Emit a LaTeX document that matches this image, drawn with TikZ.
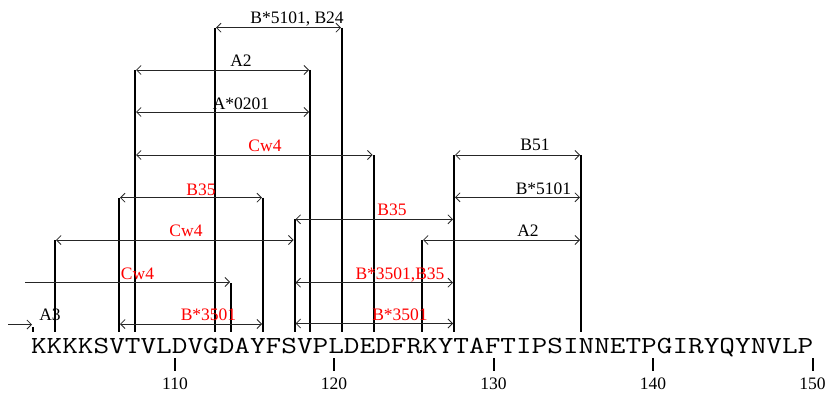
\documentclass[tikz,border=0pt]{standalone}
\usepackage{fontspec}
\setmainfont{Liberation Serif}
\usepackage{graphicx}
\usetikzlibrary{arrows.meta}
\tikzset{
  vline/.style={line width=2pt},
  barb/.tip={Straight Barb[length=4.5pt,width=9pt]},
  epi/.style={line width=0.8pt, black!85, barb-barb, shorten <=1pt, shorten >=1pt},
  epiR/.style={line width=0.8pt, black!85, -barb, shorten >=1pt},
  lab/.style={font=\fontsize{17.5}{17.5}\selectfont, inner sep=0pt, anchor=base},
  redlab/.style={lab, text=red},
  tickln/.style={line width=2pt},
}
\begin{document}
\begin{tikzpicture}[x=1pt,y=-1pt]
\useasboundingbox (0,0) rectangle (827,393);
% vertical lines
\foreach \n/\x/\t in {a/55/240, b/119/197.7, c/135/70, d/215/27.7, e/231/283, f/263/197.7,
  g/294.5/219.3, h/310/70, i/342/27.7, j/373.5/155, k/422/240, l/454/155, m/581/155}{
  \coordinate (v\n t) at (\x,\t);
  \coordinate (v\n b) at (\x,332);
  \draw[vline] (v\n t) -- (v\n b);
}
\coordinate (a3tt) at (33,327);
\coordinate (a3tb) at (33,332);
\draw[vline] (a3tt) -- (a3tb);
% epitope arrows
\coordinate (e1l) at (215,27.7);   \coordinate (e1r) at (342,27.7);
\coordinate (e2l) at (135,70);     \coordinate (e2r) at (310,70);
\coordinate (e3l) at (135,112);    \coordinate (e3r) at (310,112);
\coordinate (e4l) at (135,155);    \coordinate (e4r) at (373.5,155);
\coordinate (e5l) at (119,197.7);  \coordinate (e5r) at (263,197.7);
\coordinate (e6l) at (55,240);     \coordinate (e6r) at (294.5,240);
\coordinate (e7l) at (25,282);     \coordinate (e7r) at (231,282);
\coordinate (e8l) at (454,155);    \coordinate (e8r) at (581,155);
\coordinate (e9l) at (454,197.3);  \coordinate (e9r) at (581,197.3);
\coordinate (e10l) at (294.5,219.3); \coordinate (e10r) at (454,219.3);
\coordinate (e11l) at (422,240);   \coordinate (e11r) at (581,240);
\coordinate (e12l) at (294.5,282.7); \coordinate (e12r) at (454,282.7);
\coordinate (e13l) at (294.5,323.5); \coordinate (e13r) at (454,323.5);
\coordinate (e14l) at (119,324);   \coordinate (e14r) at (263,324);
\coordinate (e15l) at (8,324.5);   \coordinate (e15r) at (33,324.5);
\foreach \k in {1,2,3,4,5,6,8,9,10,11,12,13,14}{
  \draw[epi] (e\k l) -- (e\k r);
}
\draw[epiR] (e7l) -- (e7r);
\draw[epiR] (e15l) -- (e15r);
% labels
\node[lab] (l1) at (297,24) {B*5101, B24};
\node[lab] (l2) at (241,66.7) {A2};
\node[lab] (l3) at (241,109.3) {A*0201};
\node[redlab] (l4) at (265,151.7) {Cw4};
\node[redlab] (l5) at (201,195) {B35};
\node[redlab] (l6) at (186,236) {Cw4};
\node[redlab] (l7) at (137.5,279.3) {Cw4};
\node[lab] (l8) at (535,150.5) {B51};
\node[lab] (l9) at (543.5,194) {B*5101};
\node[redlab] (l10) at (392,215.5) {B35};
\node[lab] (l11) at (528,236) {A2};
\node[redlab] (l12) at (400,279.3) {B*3501,B35};
\node[redlab] (l13) at (400,320) {B*3501};
\node[redlab] (l14) at (208.5,320.7) {B*3501};
\node[lab] (l15) at (50,320.7) {A3};
% sequence
\node[inner sep=0pt, anchor=base] (seq) at (422.2,353)
  {\scalebox{1.24}[1]{\fontsize{24.5}{24.5}\ttfamily KKKKSVTVLDVGDAYFSVPLDEDFRKYTAFTIPSINNETPGIRYQYNVLP}};
% ticks
\foreach \v/\x in {110/175, 120/334, 130/493.5, 140/653, 150/812.5}{
  \coordinate (t\v a) at (\x,358);
  \coordinate (t\v b) at (\x,371);
  \draw[tickln] (t\v a) -- (t\v b);
  \node[lab] (tl\v) at (\x,389) {\v};
}
\end{tikzpicture}
\end{document}
